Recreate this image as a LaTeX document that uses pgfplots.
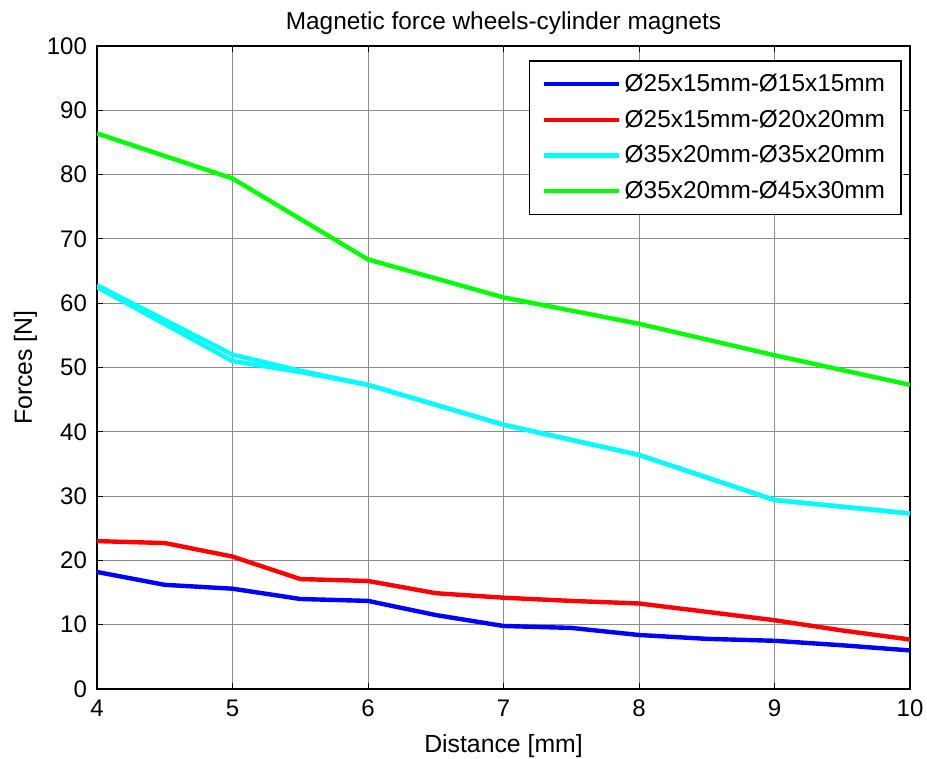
\documentclass[border=0pt]{standalone}
\usepackage{fontspec}
\setmainfont{Liberation Sans}
\usepackage{pgfplots}
\pgfplotsset{compat=1.18}
\definecolor{mblue}{RGB}{0,0,255}
\definecolor{mred}{RGB}{255,0,0}
\definecolor{mcyan}{RGB}{0,255,255}
\definecolor{mgreen}{RGB}{0,255,0}
\begin{document}
\begin{tikzpicture}
\begin{axis}[
  scale only axis,
  width=406.5pt, height=321.5pt,
  xmin=4, xmax=10, ymin=0, ymax=100,
  xtick={4,5,...,10}, ytick={0,10,...,100},
  tick align=inside, tick pos=both,
  major tick length=3pt,
  tick style={black, line width=0.5pt},
  axis line style={black, line width=0.8pt},
  grid=major,
  major grid style={black!45, line width=0.5pt},
  /pgf/number format/assume math mode=true,
  tick label style={font=\fontsize{12}{14}\selectfont},
  xticklabel style={yshift=-2pt},
  yticklabel style={xshift=-1.5pt},
  title={Magnetic force wheels-cylinder magnets},
  every axis title/.style={at={(axis description cs:0.5,1.0264)}, anchor=base, font=\fontsize{12.2}{14}\selectfont},
  xlabel={Distance [mm]},
  xlabel style={at={(axis description cs:0.5,-0.098)}, anchor=base, font=\fontsize{12.4}{14}\selectfont},
  ylabel={Forces [N]},
  ylabel style={at={(axis description cs:-0.0802,0.5)}, anchor=base, rotate=0, font=\fontsize{12.4}{14}\selectfont},
  legend style={at={(axis description cs:0.990,0.978)}, anchor=north east,
    draw=black, line width=0.8pt, fill=white,
    font=\fontsize{12.2}{14}\selectfont,
    inner xsep=6pt, inner ysep=4.5pt,
    row sep=3.6pt,
    cells={anchor=west}},
  legend image code/.code={\draw[#1, line width=2.2pt] (0pt,0pt) -- (37.5pt,0pt);},
]
\addplot[mblue, line width=2.2pt] coordinates {
(4,18.2) (4.5,16.2) (5,15.6) (5.5,14.0) (6,13.7) (6.5,11.5) (7,9.8) (7.5,9.5) (8,8.4) (8.5,7.8) (9,7.5) (9.5,6.8) (10,6.0)};
\addlegendentry{Ø25x15mm-Ø15x15mm}
\addplot[mred, line width=2.2pt] coordinates {
(4,23.0) (4.5,22.7) (5,20.6) (5.5,17.1) (6,16.8) (6.5,14.9) (7,14.2) (7.5,13.7) (8,13.3) (8.5,12.0) (9,10.7) (9.5,9.1) (10,7.7)};
\addlegendentry{Ø25x15mm-Ø20x20mm}
\addplot[mcyan, line width=2.2pt] coordinates {
(4,62.8) (5,52.0) (5.5,49.5) (6,47.3) (7,41.1) (8,36.4) (9,29.4) (10,27.3)};
\addlegendentry{Ø35x20mm-Ø35x20mm}
\addplot[mgreen, line width=2.2pt] coordinates {
(4,86.4) (5,79.4) (6,66.8) (7,60.9) (8,56.8) (9,51.9) (10,47.3)};
\addlegendentry{Ø35x20mm-Ø45x30mm}
\addplot[mcyan, line width=2.2pt, forget plot] coordinates {
(4,62.5) (5,51.0) (5.5,49.3) (6,47.3) (7,41.1) (8,36.4) (9,29.4) (10,27.3)};
\end{axis}
\pgfresetboundingbox
\path (current axis.south west) ++(-48.5pt,-34.5pt) rectangle ([shift={(8.5pt,23pt)}]current axis.north east);
\end{tikzpicture}
\end{document}
